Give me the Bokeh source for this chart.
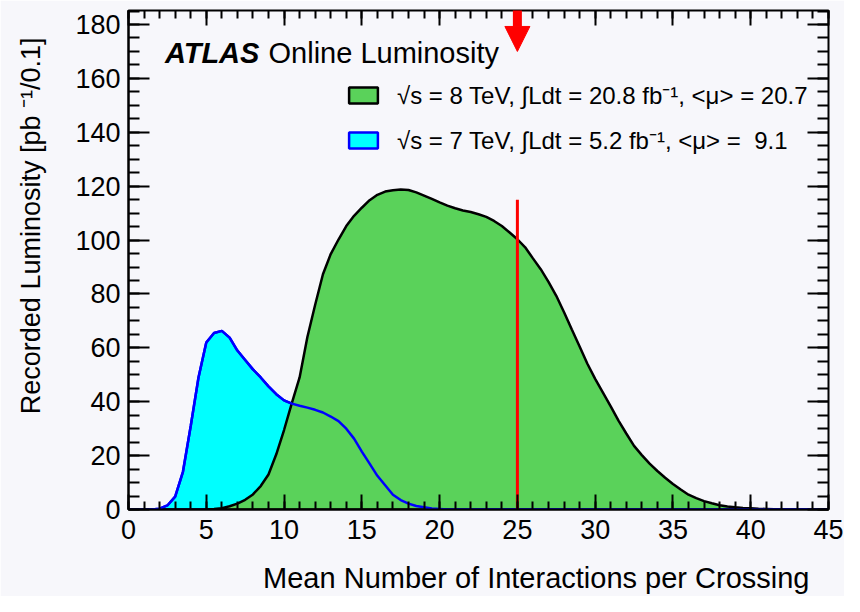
import numpy as np
from bokeh.plotting import figure
from bokeh.models import (Range1d, LinearAxis, Label, Legend, LegendItem, Title,
                          Arrow, NormalHead, FixedTicker)
from bokeh.embed import file_html
from bokeh.resources import INLINE

# ---------------- data ----------------
mu = np.arange(0, 45.01, 0.5)  # mean number of interactions per crossing (bin positions)

lumi_8tev = [0, 0, 0, 0, 0, 0, 0, 0, 0, 0,
             0.05, 0.2, 0.5, 1.2, 2.2, 3.6, 5.6, 8.7, 13, 20.5,
             29.5, 39.5, 49, 64, 76, 87.3, 94.8, 100.2, 105.2, 109,
             112, 114.8, 116.8, 118, 118.5, 118.8, 118.6, 117.7, 116.5, 115.3,
             114, 112.8, 111.8, 111.0, 110.4, 109.6, 108.6, 107.1, 105.2, 102.8,
             100.3, 97.3, 93.2, 89.2, 84.5, 79.3, 73.2, 66.8, 60.5, 54.1,
             48.5, 43.4, 38.3, 33, 28.2, 23.6, 20.2, 17, 14.3, 11.8,
             9.5, 7.4, 5.5, 4.2, 3.1, 2.3, 1.6, 1.1, 0.8, 0.6,
             0.45, 0.3, 0.2, 0.1, 0.05, 0, 0, 0, 0, 0,
             0]

lumi_7tev = [0, 0, 0, 0, 0.3, 1.5, 4.8, 14, 31, 49,
             62, 65.5, 66.3, 63.8, 59, 55.5, 52, 49, 45.7, 42.8,
             40.5, 39.3, 38.5, 37.8, 37, 36, 34.5, 32.8, 30, 26.3,
             21.5, 17, 12.5, 9, 5.5, 3.5, 2.2, 1.3, 0.8, 0.4,
             0.2] + [0] * 50

label_8tev = "\u221As = 8 TeV, \u222BLdt = 20.8 fb\u207B\u00B9, <\u03BC> = 20.7"
label_7tev = "\u221As = 7 TeV, \u222BLdt = 5.2 fb\u207B\u00B9, <\u03BC> =  9.1"
x_title = "Mean Number of Interactions per Crossing"
y_title = "Recorded Luminosity [pb \u207B\u00B9/0.1]"

x_major = [0, 5, 10, 15, 20, 25, 30, 35, 40, 45]
x_minor = list(range(0, 46))
y_major = [0, 20, 40, 60, 80, 100, 120, 140, 160, 180]
y_minor = list(range(0, 186, 5))

marker_mu = 25
marker_top = 115
arrow_top = 189
arrow_tip = 170

# ---------------- styling ----------------
BG = "#f7f7fb"
FONT = "Liberation Sans"
GREEN = "#5ad25a"
X_MAX, Y_MAX = 45, 185.2

p = figure(width=844, height=596, x_range=Range1d(0, X_MAX), y_range=Range1d(0, Y_MAX),
           output_backend="svg", toolbar_location=None,
           min_border_left=128, min_border_right=16, min_border_top=10, min_border_bottom=87)
p.background_fill_color = BG
p.border_fill_color = BG
p.xgrid.visible = False
p.ygrid.visible = False
p.outline_line_color = "black"
p.outline_line_width = 2

# main axes
xa = p.xaxis[0]
xa.ticker = FixedTicker(ticks=x_major, minor_ticks=x_minor)
ya = p.yaxis[0]
ya.ticker = FixedTicker(ticks=y_major, minor_ticks=y_minor)
for ax, mj, mn, so in ((xa, 15, 8, 10), (ya, 21, 11, 8)):
    ax.major_tick_in = mj
    ax.major_tick_out = 0
    ax.minor_tick_in = mn
    ax.minor_tick_out = 0
    ax.major_tick_line_width = 2
    ax.minor_tick_line_width = 2
    ax.axis_line_width = 2
    ax.major_label_text_font = FONT
    ax.major_label_text_font_size = "27px"
    ax.major_label_text_color = "black"
    ax.major_label_standoff = so

# mirrored tick axes (top / right), ticks only
top = LinearAxis(ticker=FixedTicker(ticks=x_major, minor_ticks=x_minor))
right = LinearAxis(ticker=FixedTicker(ticks=y_major, minor_ticks=y_minor))
for ax, mj, mn in ((top, 15, 8), (right, 21, 11)):
    ax.major_tick_in = mj
    ax.major_tick_out = 0
    ax.minor_tick_in = mn
    ax.minor_tick_out = 0
    ax.major_tick_line_width = 2
    ax.minor_tick_line_width = 2
    ax.axis_line_color = None
    ax.major_label_text_font_size = "1px"
    ax.major_label_text_color = None
    ax.major_label_text_alpha = 0
    ax.major_label_standoff = 0
p.add_layout(top, "above")
p.add_layout(right, "right")


def spacer(size):
    """An invisible axis used only to reserve room between an axis and its title."""
    return LinearAxis(ticker=FixedTicker(ticks=[0], minor_ticks=[]), major_tick_out=size,
                      major_tick_in=0, minor_tick_out=0, minor_tick_in=0,
                      axis_line_color=None, major_tick_line_color=None,
                      minor_tick_line_color=None, major_label_standoff=0,
                      major_label_text_font_size="1px", major_label_text_color=None,
                      major_label_text_alpha=0)


p.add_layout(spacer(27), "left")
p.add_layout(spacer(18), "below")

# axis titles, right-aligned at the axis ends (ROOT style)
p.add_layout(Title(text=y_title, align="right", offset=27, standoff=0,
                   text_font=FONT, text_font_size="27px", text_font_style="normal",
                   text_color="black"), "left")
p.add_layout(Title(text=x_title, align="right", offset=19, standoff=0,
                   text_font=FONT, text_font_size="29px", text_font_style="normal",
                   text_color="black"), "below")

# ---------------- glyphs ----------------
cyan = p.patch(mu, lumi_7tev, fill_color="#00ffff", line_color="#0000ff", line_width=2.5)
green = p.patch(mu, lumi_8tev, fill_color=GREEN, line_color="black", line_width=2.5)
p.line(mu, lumi_7tev, line_color="#0000ff", line_width=2.5)

p.segment(x0=[marker_mu], y0=[0], x1=[marker_mu], y1=[marker_top], line_color="red", line_width=3)
p.add_layout(Arrow(end=NormalHead(size=25, fill_color="red", line_color="red"),
                   x_start=marker_mu, y_start=arrow_top, x_end=marker_mu, y_end=arrow_tip,
                   line_color="red", line_width=9))

p.add_layout(Label(x=2.34, y=169.5, text="ATLAS", text_font=FONT, text_font_size="29px",
                   text_font_style="bold italic", text_baseline="alphabetic", text_color="black"))
p.add_layout(Label(x=9.0, y=169.5, text="Online Luminosity", text_font=FONT, text_font_size="29px",
                   text_baseline="alphabetic", text_color="black"))

legend = Legend(items=[LegendItem(label=label_8tev, renderers=[green]),
                       LegendItem(label=label_7tev, renderers=[cyan])],
                location=(217, 353), padding=0, margin=0, spacing=12,
                glyph_width=36, glyph_height=20, label_standoff=16,
                label_text_font=FONT, label_text_font_size="24px", label_text_color="black",
                background_fill_alpha=0, border_line_color=None)
p.add_layout(legend)

open("out.html", "w").write(file_html(p, INLINE))
